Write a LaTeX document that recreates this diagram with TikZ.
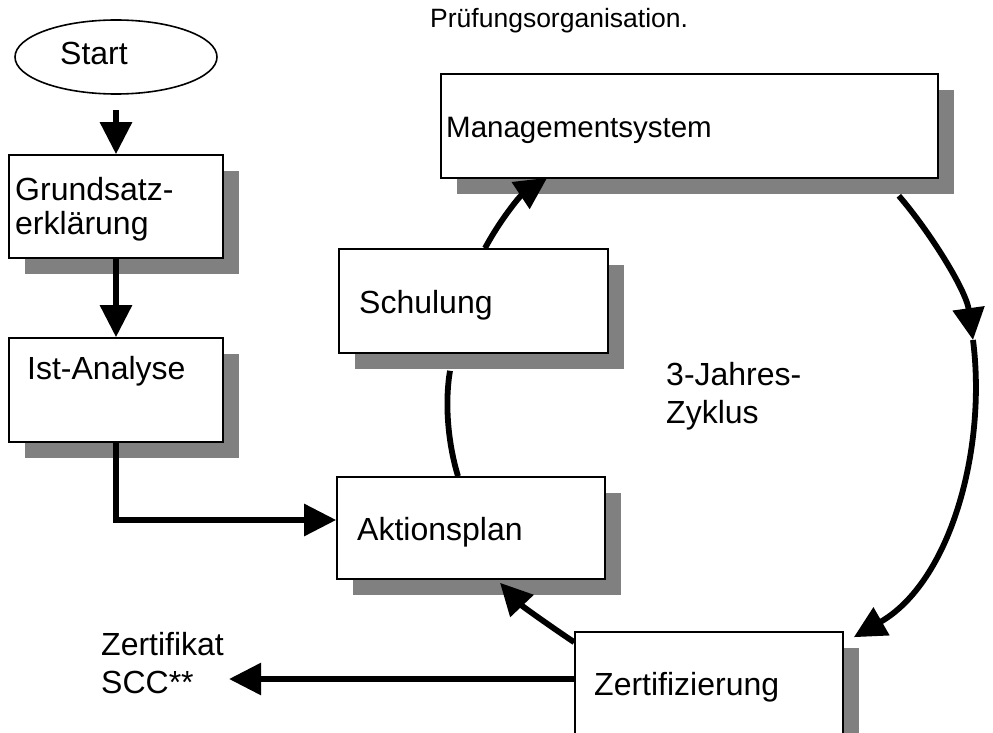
\documentclass[tikz,border=0pt]{standalone}
\usepackage{fontspec}
\setmainfont{Liberation Sans}
\usetikzlibrary{arrows.meta,shapes.geometric,shadows}
\begin{document}
\begin{tikzpicture}[x=1pt,y=-1pt,
  txt/.style={inner sep=0pt, anchor=base west, font=\fontsize{32}{38}\selectfont},
  box/.style={draw=black, line width=1.6pt, fill=white, rectangle, inner sep=0pt,
    drop shadow={shadow xshift=16pt, shadow yshift=-16pt, fill=black!50, opacity=1}},
  startbox/.style={draw=black, line width=1.6pt, ellipse, fill=white, inner sep=0pt},
  arr/.style={line width=5.8pt, -{Triangle[length=32pt,width=31pt]}},
  link/.style={line width=5.8pt}]
\useasboundingbox (0,0) rectangle (993,733);
\clip (0,0) rectangle (993,733);

% shapes
\node[startbox, minimum width=202pt, minimum height=74pt] (start) at (116,57) {};
\node[box, minimum width=214pt, minimum height=103pt] (grund) at (116,206.5) {};
\node[box, minimum width=214pt, minimum height=104pt] (ist) at (116,390) {};
\node[box, minimum width=268pt, minimum height=102pt] (akt) at (471,528) {};
\node[box, minimum width=269pt, minimum height=104pt] (sch) at (473.5,301) {};
\node[box, minimum width=497pt, minimum height=104pt] (ms) at (689.5,126) {};
\node[box, minimum width=268pt, minimum height=104pt] (zert) at (709,684) {};

% texts
\node[txt] (startt) at (60,65) {Start};
\node[txt] (grundt) at (15,200) {\fontsize{32}{34}\selectfont\begin{tabular}[t]{@{}l@{}}Grundsatz-\\erklärung\end{tabular}};
\node[txt] (istt) at (27,379) {Ist-Analyse};
\node[txt] (aktt) at (357,540) {Aktionsplan};
\node[txt] (scht) at (359,313) {Schulung};
\node[txt, font=\fontsize{29.5}{35}\selectfont] (mst) at (446,138) {Managementsystem};
\node[txt] (zertt) at (594,695) {Zertifizierung};
\node[txt, font=\fontsize{26.5}{31}\selectfont] (pruef) at (430,28) {Prüfungsorganisation.};
\node[txt] (jahr) at (666,385) {\begin{tabular}[t]{@{}l@{}}3-Jahres-\\Zyklus\end{tabular}};
\node[txt] (zk) at (101,655) {\begin{tabular}[t]{@{}l@{}}Zertifikat\\SCC**\end{tabular}};

% connectors
\draw[arr, shorten <=15pt] (start.south) -- (grund.north);
\draw[arr] (grund.south) -- (ist.north);
\draw[arr] (ist.south) |- ([shift={(0,-8)}]akt.west);
\coordinate (zkend) at (229,679);
\draw[arr] ([shift={(0,-5)}]zert.west) -- (zkend);

\coordinate (mid) at (973,340);
\draw[arr] ([shift={(-40,17)}]ms.south east) .. controls (930,232) and (966,290) .. (mid);
\draw[arr] (mid) .. controls (987,450) and (950,582) .. ([shift={(10,6)}]zert.north east);
\draw[arr] ([shift={(0,11)}]zert.north west) .. controls (550,626) and (522,606) .. ([shift={(29,3)}]akt.south);
\draw[link] ([shift={(-13,0)}]akt.north) .. controls (447,440) and (445,400) .. ([shift={(-23.5,17)}]sch.south);
\draw[arr] ([shift={(11.5,0)}]sch.north) .. controls (500,220) and (520,196) .. ([shift={(107,-1)}]ms.south west);
\end{tikzpicture}
\end{document}
